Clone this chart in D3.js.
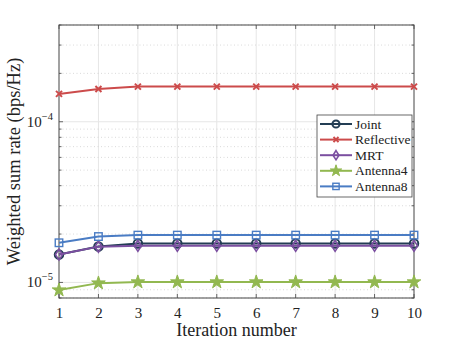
<!DOCTYPE html>
<html>
<head>
<meta charset="utf-8">
<script src="https://cdn.jsdelivr.net/npm/d3@7"></script>
<style>
  body { margin: 0; background: #fff; }
</style>
</head>
<body>
<div id="chart"></div>
<script>
var iterations = [1, 2, 3, 4, 5, 6, 7, 8, 9, 10];
var joint      = [1.49e-5, 1.675e-5, 1.745e-5, 1.745e-5, 1.745e-5, 1.745e-5, 1.745e-5, 1.745e-5, 1.745e-5, 1.745e-5];
var reflective = [1.49e-4, 1.6e-4, 1.655e-4, 1.655e-4, 1.655e-4, 1.655e-4, 1.655e-4, 1.655e-4, 1.655e-4, 1.655e-4];
var mrt        = [1.49e-5, 1.67e-5, 1.69e-5, 1.69e-5, 1.69e-5, 1.69e-5, 1.69e-5, 1.69e-5, 1.69e-5, 1.69e-5];
var antenna4   = [8.96e-6, 9.9e-6, 1.005e-5, 1.005e-5, 1.005e-5, 1.005e-5, 1.005e-5, 1.005e-5, 1.005e-5, 1.005e-5];
var antenna8   = [1.765e-5, 1.93e-5, 1.97e-5, 1.97e-5, 1.97e-5, 1.97e-5, 1.97e-5, 1.97e-5, 1.97e-5, 1.97e-5];
var seriesNames = ["Joint", "Reflective", "MRT", "Antenna4", "Antenna8"];
var yDomain = [8e-6, 4e-4];

var FONT = "Liberation Serif";

var series = [
  {name: seriesNames[0], values: joint,      color: "#233d54", marker: "circle"},
  {name: seriesNames[1], values: reflective, color: "#cc4b4b", marker: "x"},
  {name: seriesNames[2], values: mrt,        color: "#7b4fa0", marker: "diamond"},
  {name: seriesNames[3], values: antenna4,   color: "#92b850", marker: "star"},
  {name: seriesNames[4], values: antenna8,   color: "#4a7cc4", marker: "square"}
];

var W = 457, H = 342;
var margin = {top: 25, right: 43, bottom: 44, left: 59};
var width = W - margin.left - margin.right;
var height = H - margin.top - margin.bottom;

var svg = d3.select("#chart").append("svg")
    .attr("width", W)
    .attr("height", H)
    .style("font-family", FONT);
var g = svg.append("g")
    .attr("transform", "translate(" + margin.left + "," + margin.top + ")");

var x = d3.scaleLinear().domain([1, 10]).range([0, width]);
var y = d3.scaleLog().domain(yDomain).range([height, 0]);

// grid
var minorTicks = y.ticks().filter(function (t) {
  var m = t / Math.pow(10, Math.floor(Math.log10(t) + 1e-9));
  return Math.abs(m - 1) > 1e-6;
});
var majorTicks = [1e-5, 1e-4];

g.append("g").selectAll("line.xgrid")
  .data(iterations.slice(1, -1))
  .enter().append("line")
  .attr("x1", function (d) { return x(d); })
  .attr("x2", function (d) { return x(d); })
  .attr("y1", 0).attr("y2", height)
  .attr("stroke", "#e6e6e6").attr("stroke-width", 1);

g.append("g").selectAll("line.minor")
  .data(minorTicks)
  .enter().append("line")
  .attr("x1", 0).attr("x2", width)
  .attr("y1", function (d) { return y(d); })
  .attr("y2", function (d) { return y(d); })
  .attr("stroke", "#d0d0d0").attr("stroke-width", 0.8)
  .attr("stroke-dasharray", "1,2.5");

g.append("g").selectAll("line.major")
  .data(majorTicks)
  .enter().append("line")
  .attr("x1", 0).attr("x2", width)
  .attr("y1", function (d) { return y(d); })
  .attr("y2", function (d) { return y(d); })
  .attr("stroke", "#e6e6e6").attr("stroke-width", 1);

// axes
var xAxis = d3.axisBottom(x).tickValues(iterations).tickSize(0).tickPadding(9)
  .tickFormat(d3.format("d"));
var xg = g.append("g").attr("transform", "translate(0," + height + ")").call(xAxis);
xg.attr("font-family", null);
xg.select(".domain").remove();
xg.selectAll("text").attr("font-size", 15).attr("fill", "#222").style("font-family", FONT);

// tick marks inside on all sides
var ticksG = g.append("g").attr("stroke", "#444").attr("stroke-width", 0.8);
iterations.forEach(function (d) {
  ticksG.append("line").attr("x1", x(d)).attr("x2", x(d)).attr("y1", height).attr("y2", height - 4);
  ticksG.append("line").attr("x1", x(d)).attr("x2", x(d)).attr("y1", 0).attr("y2", 4);
});
minorTicks.concat(majorTicks).forEach(function (d) {
  var len = majorTicks.indexOf(d) >= 0 ? 4 : 2.5;
  ticksG.append("line").attr("x1", 0).attr("x2", len).attr("y1", y(d)).attr("y2", y(d));
  ticksG.append("line").attr("x1", width).attr("x2", width - len).attr("y1", y(d)).attr("y2", y(d));
});

// y tick labels 10^n
majorTicks.forEach(function (d) {
  var e = Math.round(Math.log10(d));
  var t = g.append("text")
    .attr("x", -6).attr("y", y(d) + 5)
    .attr("text-anchor", "end")
    .attr("fill", "#222")
    .attr("font-size", 15);
  t.append("tspan").text("10");
  t.append("tspan").attr("dy", -7).attr("font-size", 10.5).text("\u2212" + Math.abs(e));
});

// frame
g.append("rect").attr("x", 0).attr("y", 0).attr("width", width).attr("height", height)
  .attr("fill", "none").attr("stroke", "#444").attr("stroke-width", 1);

// axis labels
svg.append("text")
  .attr("x", margin.left + width / 2).attr("y", H - 6)
  .attr("text-anchor", "middle").attr("font-size", 18).attr("fill", "#222")
  .text("Iteration number");
svg.append("text")
  .attr("transform", "translate(20," + (margin.top + height / 2) + ") rotate(-90)")
  .attr("text-anchor", "middle").attr("font-size", 18.5).attr("fill", "#222")
  .text("Weighted sum rate (bps/Hz)");

// markers
function drawMarker(sel, type, color, cx, cy, s) {
  if (type === "circle") {
    sel.append("circle").attr("cx", cx).attr("cy", cy).attr("r", s * 0.85)
      .attr("fill", "none").attr("stroke", color).attr("stroke-width", 2);
  } else if (type === "square") {
    sel.append("rect").attr("x", cx - s * 0.75).attr("y", cy - s * 0.75)
      .attr("width", s * 1.5).attr("height", s * 1.5)
      .attr("fill", "none").attr("stroke", color).attr("stroke-width", 1.4);
  } else if (type === "diamond") {
    sel.append("path")
      .attr("d", "M" + cx + "," + (cy - s * 1.1) + "L" + (cx + s * 0.7) + "," + cy +
        "L" + cx + "," + (cy + s * 1.1) + "L" + (cx - s * 0.7) + "," + cy + "Z")
      .attr("fill", "none").attr("stroke", color).attr("stroke-width", 1.6);
  } else if (type === "x") {
    var a = s * 0.6;
    sel.append("path")
      .attr("d", "M" + (cx - a) + "," + (cy - a) + "L" + (cx + a) + "," + (cy + a) +
        "M" + (cx - a) + "," + (cy + a) + "L" + (cx + a) + "," + (cy - a))
      .attr("stroke", color).attr("stroke-width", 2);
  } else if (type === "star") {
    sel.append("path")
      .attr("d", d3.symbol().type(d3.symbolStar).size(s * s * 2.3)())
      .attr("transform", "translate(" + cx + "," + cy + ")")
      .attr("fill", color).attr("stroke", color).attr("stroke-width", 1);
  }
}

var line = d3.line()
  .x(function (d, i) { return x(iterations[i]); })
  .y(function (d) { return y(d); });

series.forEach(function (s) {
  var sg = g.append("g");
  sg.append("path").datum(s.values)
    .attr("d", line)
    .attr("fill", "none").attr("stroke", s.color).attr("stroke-width", 2);
  s.values.forEach(function (v, i) {
    drawMarker(sg, s.marker, s.color, x(iterations[i]), y(v), 5);
  });
});

// legend
var lg = svg.append("g").attr("transform", "translate(317,115)");
lg.append("rect").attr("x", 0).attr("y", 0).attr("width", 95).attr("height", 82)
  .attr("fill", "#fff").attr("stroke", "#444").attr("stroke-width", 0.8);
series.forEach(function (s, i) {
  var yy = 9 + i * 15.6;
  lg.append("line").attr("x1", 3).attr("x2", 35).attr("y1", yy).attr("y2", yy)
    .attr("stroke", s.color).attr("stroke-width", 2);
  drawMarker(lg, s.marker, s.color, 19, yy, 4.2);
  lg.append("text").attr("x", 38).attr("y", yy + 4.5)
    .attr("font-size", 13.5).attr("fill", "#222").text(s.name);
});
</script>
</body>
</html>
